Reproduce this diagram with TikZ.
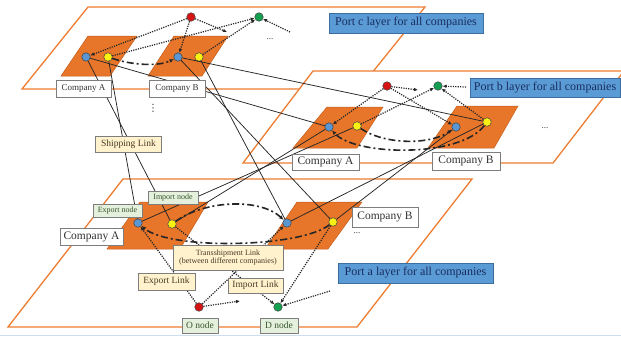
\documentclass[tikz,border=0pt]{standalone}
\usepackage{fontspec}
\setmainfont{Liberation Serif}
\newfontfamily\dotsfont{DejaVu Sans}
\usetikzlibrary{arrows.meta}

\definecolor{layerorange}{RGB}{237,125,49}
\definecolor{firmorange}{RGB}{232,118,42}
\definecolor{firmedge}{RGB}{196,92,28}
\definecolor{portblue}{RGB}{91,155,213}
\definecolor{portbluedge}{RGB}{60,110,160}
\definecolor{portink}{RGB}{25,45,95}
\definecolor{expblue}{RGB}{90,150,210}
\definecolor{impyellow}{RGB}{250,240,20}
\definecolor{ored}{RGB}{215,20,20}
\definecolor{dgreen}{RGB}{20,160,80}
\definecolor{notegreen}{RGB}{228,240,220}
\definecolor{noteink}{RGB}{55,85,45}
\definecolor{linkcream}{RGB}{255,242,204}
\definecolor{linkink}{RGB}{70,60,40}
\definecolor{frameline}{RGB}{125,125,125}
\definecolor{rulecolor}{RGB}{205,222,238}

\newcommand\fsz[1]{\fontsize{#1}{#1}\selectfont}

\tikzset{
  layer/.style={draw=layerorange, line width=1.3pt, fill=white, line join=miter},
  firm/.style={fill=firmorange, draw=firmedge, line width=0.5pt},
  hub/.style={circle, inner sep=0pt, minimum size=8.5pt, draw=black!75, line width=0.5pt},
  expnode/.style={hub, fill=expblue},
  impnode/.style={hub, fill=impyellow},
  orignode/.style={hub, fill=ored},
  destnode/.style={hub, fill=dgreen},
  flow/.style={line width=1.2pt, dash pattern=on 1.2pt off 1.2pt, draw=black!85,
               -{Latex[length=4pt,width=3.6pt]}},
  shiplink/.style={line width=0.75pt, draw=black!85},
  tranlink/.style={line width=1.6pt, dash pattern=on 7pt off 3pt on 2pt off 3pt,
                   draw=black!85, -{Latex[length=4.5pt,width=4pt]}},
  portlabel/.style={fill=portblue, draw=portbluedge, line width=0.5pt, text=portink,
                    font=\fsz{12}, inner sep=0pt},
  firmlabel/.style={fill=white, draw=frameline, line width=0.6pt, text=black!80, inner sep=0pt},
  notelabel/.style={fill=notegreen, draw=frameline, line width=0.6pt, text=noteink,
                    inner sep=0pt, font=\fsz{8}},
  linklabel/.style={fill=linkcream, draw=frameline, line width=0.6pt, text=linkink,
                    inner sep=0pt, font=\fsz{9.5}, align=center},
  more/.style={font=\fsz{9}, text=black!80, inner sep=0pt}
}

\begin{document}
\begin{tikzpicture}[x=1pt,y=-1pt]
\useasboundingbox (0,0) rectangle (621,340);

% faint rule along the foot of the sheet
\draw[rulecolor, line width=1pt] (0,335) -- (621,335);

% the three port layers
\draw[layer] (88,7) -- (425,7) -- (359,89) -- (22,89) -- cycle;
\draw[layer] (313,71) -- (624,71) -- (553,163) -- (243,163) -- cycle;
\draw[layer] (123,179) -- (472,179) -- (357,327) -- (8,327) -- cycle;

% company areas inside each port
\draw[firm] (88,36) -- (137,36) -- (110,76) -- (61,76) -- cycle;
\draw[firm] (174,36) -- (228,36) -- (202,76) -- (148,76) -- cycle;
\draw[firm] (327,107) -- (383,107) -- (357,148) -- (293,148) -- cycle;
\draw[firm] (457,106) -- (518,106) -- (494,148) -- (428,148) -- cycle;
\draw[firm] (140,202) -- (208,202) -- (180,249) -- (107,249) -- cycle;
\draw[firm] (297,202) -- (362,202) -- (328,249) -- (265,249) -- cycle;

% port c nodes
\node[expnode] (Acx) at (86,57) {};
\node[impnode] (Aci) at (108,57) {};
\node[expnode] (Bcx) at (178,57) {};
\node[impnode] (Bci) at (199,57) {};
\node[orignode] (Oc) at (191,17) {};
\node[destnode] (Dc) at (259,17) {};
\coordinate (ocmore) at (227,32);
\coordinate (dcmore) at (290,32);

% port b nodes
\node[expnode] (Abx) at (329,127) {};
\node[impnode] (Abi) at (357,126) {};
\node[expnode] (Bbx) at (456,127) {};
\node[impnode] (Bbi) at (487,122) {};
\node[orignode] (Ob) at (387,86) {};
\node[destnode] (Db) at (438,86) {};
\coordinate (obmore) at (418,90);
\coordinate (dbmore) at (466,87);

% port a nodes
\node[expnode] (Aax) at (138,223) {};
\node[impnode] (Aai) at (172,224) {};
\node[expnode] (Bax) at (287,223) {};
\node[impnode] (Bai) at (333,222) {};
\node[orignode] (Oa) at (199,307) {};
\node[destnode] (Da) at (278,307) {};
\coordinate (oamore) at (240,301);
\coordinate (damore) at (330,291);

% transshipment links between companies
\draw[tranlink] (Aci) .. controls (135,66) and (160,66) .. (Bcx);
\draw[tranlink] (Abi) .. controls (385,145) and (430,145) .. (Bbx);
\draw[tranlink] (Bbi) .. controls (460,158) and (355,156) .. (Abx);
\draw[tranlink] (Aai) .. controls (205,200) and (260,198) .. (Bax);
\draw[tranlink] (Bai) .. controls (300,248) and (170,250) .. (Aax);

% O-D flows inside each port
\draw[flow] (Oc) -- (Acx);
\draw[flow] (Oc) -- (Bcx);
\draw[flow] (Oc) -- (ocmore);
\draw[flow] (Aci) -- (Dc);
\draw[flow] (Bci) -- (Dc);
\draw[flow] (dcmore) -- (Dc);

\draw[flow] (Ob) -- (Abx);
\draw[flow] (Ob) -- (Bbx);
\draw[flow] (Ob) -- (obmore);
\draw[flow] (Abi) -- (Db);
\draw[flow] (Bbi) -- (Db);
\draw[flow] (dbmore) -- (Db);

\draw[flow] (Oa) -- (Aax);
\draw[flow] (Oa) -- (Bax);
\draw[flow] (Oa) -- (oamore);
\draw[flow] (Aai) -- (Da);
\draw[flow] (Bai) -- (Da);
\draw[flow] (damore) -- (Da);

% shipping links between ports
\draw[shiplink] (Acx) -- (Abx);
\draw[shiplink] (Bcx) -- (Bbi);
\draw[shiplink] (Aci) -- (Aax);
\draw[shiplink] (Acx) -- (Aai);
\draw[shiplink] (Bci) -- (Bax);
\draw[shiplink] (Bcx) -- (Bai);
\draw[shiplink] (Aax) -- (Abi);
\draw[shiplink] (Aai) -- (Abx);
\draw[shiplink] (Bax) -- (Bbi);
\draw[shiplink] (Bai) -- (Bbx);

% layer captions
\node[portlabel, minimum width=154pt, minimum height=20pt] (capc) at (406,23) {Port c layer for all companies};
\node[portlabel, minimum width=150pt, minimum height=19pt] (capb) at (545,87.5) {Port b layer for all companies};
\node[portlabel, minimum width=155pt, minimum height=20pt] (capa) at (415.5,273) {Port a layer for all companies};

% company captions
\node[firmlabel, font=\fsz{9}, minimum width=55pt, minimum height=17pt] (firmAc) at (83.5,88.5) {Company A};
\node[firmlabel, font=\fsz{9}, minimum width=56pt, minimum height=17pt] (firmBc) at (177,88.5) {Company B};
\node[firmlabel, font=\fsz{11.5}, minimum width=67pt, minimum height=16pt] (firmAb) at (325.5,162) {Company A};
\node[firmlabel, font=\fsz{11.5}, minimum width=68pt, minimum height=18pt] (firmBb) at (466,161) {Company B};
\node[firmlabel, font=\fsz{11.5}, minimum width=63pt, minimum height=17pt] (firmAa) at (91.5,236.5) {Company A};
\node[firmlabel, font=\fsz{11.5}, minimum width=66pt, minimum height=20pt] (firmBa) at (385,217) {Company B};

% further companies
\node[more] (etcc) at (270,39) {...};
\node[more, font=\dotsfont\fsz{10}] (etcv) at (153,108) {⋮};
\node[more] (etcb) at (545,128) {...};
\node[more] (etca) at (357,233) {...};

% node and link legends
\node[notelabel, minimum width=49pt, minimum height=13pt] (expnote) at (117.5,210.5) {Export node};
\node[notelabel, minimum width=50pt, minimum height=13pt] (impnote) at (173,198) {Import node};
\node[notelabel, font=\fsz{9.5}, minimum width=36pt, minimum height=15pt] (onote) at (200,325.5) {O node};
\node[notelabel, font=\fsz{9.5}, minimum width=38pt, minimum height=15pt] (dnote) at (279,325.5) {D node};
\node[linklabel, minimum width=66pt, minimum height=16pt] (shipnote) at (128.5,144) {Shipping Link};
\node[linklabel, font=\fsz{8}, minimum width=110pt, minimum height=25pt] (trannote) at (228,257.5)
  {Transshipment Link\\[-0.5pt](between different companies)};
\node[linklabel, minimum width=57pt, minimum height=17pt] (exlnote) at (166.5,281.5) {Export Link};
\node[linklabel, minimum width=55pt, minimum height=15pt] (imlnote) at (255.5,285.5) {Import Link};
\end{tikzpicture}
\end{document}
